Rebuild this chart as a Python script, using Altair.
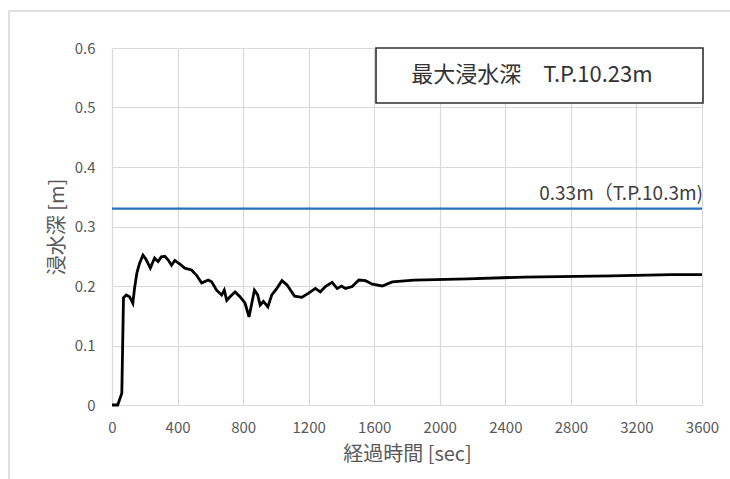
import altair as alt
import pandas as pd

# Flood depth time series (elapsed seconds, depth in metres)
t_sec = [0, 35, 60, 70, 87, 107, 127, 138, 152, 168, 189, 209, 234, 260, 281, 301,
         322, 342, 363, 383, 414, 444, 485, 516, 547, 587, 608, 638, 669, 685, 700,
         720, 751, 781, 812, 836, 853, 869, 889, 904, 924, 951, 975, 1006, 1037,
         1067, 1114, 1159, 1200, 1241, 1271, 1302, 1343, 1374, 1400, 1425, 1466,
         1506, 1547, 1588, 1649, 1710, 1843, 2170, 2515, 3048, 3416, 3600]
depth_m = [0.0, 0.0, 0.02, 0.18, 0.185, 0.182, 0.171, 0.197, 0.222, 0.238, 0.252,
           0.244, 0.230, 0.247, 0.241, 0.249, 0.250, 0.244, 0.235, 0.243, 0.237,
           0.230, 0.227, 0.218, 0.205, 0.210, 0.207, 0.193, 0.185, 0.193, 0.176,
           0.182, 0.190, 0.182, 0.171, 0.148, 0.171, 0.193, 0.185, 0.168, 0.174,
           0.165, 0.185, 0.196, 0.209, 0.202, 0.183, 0.181, 0.188, 0.196, 0.190,
           0.199, 0.206, 0.196, 0.200, 0.196, 0.199, 0.210, 0.209, 0.203, 0.200,
           0.207, 0.210, 0.212, 0.215, 0.217, 0.219, 0.219]

ref_depth = [0.33]
ref_label = ["0.33m（T.P.10.3m)"]
box_label = ["最大浸水深　T.P.10.23m"]

x_ticks = list(range(0, 3601, 400))
y_ticks = [0, 0.1, 0.2, 0.3, 0.4, 0.5, 0.6]

FONT = "Noto Sans CJK JP"
W, H = 590, 357

series = pd.DataFrame({"t": t_sec, "d": depth_m})
ref = pd.DataFrame({"d": ref_depth, "label": ref_label, "t": [3600]})

x_scale = alt.Scale(domain=[0, 3600], nice=False)
y_scale = alt.Scale(domain=[0, 0.6], nice=False)

x_axis = alt.Axis(values=x_ticks, title="経過時間 [sec]", ticks=False, domain=False,
                  format="d", labelFlush=False, labelPadding=15, titlePadding=9,
                  labelFontSize=15, titleFontSize=20, grid=True)
y_axis = alt.Axis(values=y_ticks, title="浸水深 [m]", ticks=False, domain=False,
                  labelFlush=False, labelPadding=17, titlePadding=7, labelFontSize=15,
                  titleFontSize=20, grid=True,
                  labelExpr="datum.value == 0 ? '0' : format(datum.value, '.1f')")

line = alt.Chart(series).mark_line(color="black", strokeWidth=2.8,
                                   interpolate="linear").encode(
    x=alt.X("t:Q", scale=x_scale, axis=x_axis),
    y=alt.Y("d:Q", scale=y_scale, axis=y_axis),
)

ref_rule = alt.Chart(ref).mark_rule(color="#2670bf", strokeWidth=2.4).encode(
    y=alt.Y("d:Q", scale=y_scale),
    x=alt.value(0), x2=alt.value(W),
)

ref_text = alt.Chart(ref).mark_text(align="right", baseline="bottom", dy=-5, dx=1,
                                    font=FONT, fontSize=19, color="#404040").encode(
    x=alt.X("t:Q", scale=x_scale),
    y=alt.Y("d:Q", scale=y_scale),
    text="label:N",
)

# Annotation box in the upper right corner
box_df = pd.DataFrame({"label": box_label})
box = alt.Chart(box_df).mark_rect(fill="white", stroke="#303030", strokeWidth=1.6).encode(
    x=alt.value(264), x2=alt.value(591), y=alt.value(0), y2=alt.value(55),
)
box_text = alt.Chart(box_df).mark_text(align="center", baseline="middle", font=FONT,
                                       fontSize=22, color="#333333").encode(
    x=alt.value(420), y=alt.value(27), text="label:N",
)

# Light outer frame of the chart
frame_top = alt.Chart(box_df).mark_rule(color="#d6d6d6", strokeWidth=1.5).encode(
    x=alt.value(-103), x2=alt.value(W + 40), y=alt.value(-37),
)
frame_left = alt.Chart(box_df).mark_rule(color="#d6d6d6", strokeWidth=1.5).encode(
    x=alt.value(-103), y=alt.value(-37), y2=alt.value(H + 90),
)

chart = alt.layer(frame_top, frame_left, line, ref_rule, ref_text, box, box_text).properties(
    width=W, height=H,
    autosize=alt.AutoSizeParams(type="none"),
    padding={"left": 112, "top": 48, "right": 28, "bottom": 74},
    background="white",
).configure_view(stroke=None).configure_axis(
    labelFont=FONT, titleFont=FONT, labelColor="#595959", titleColor="#595959",
    gridColor="#d9d9d9", gridWidth=1.2, titleFontWeight="normal",
)

chart.save("out.html", embed_options={"renderer": "svg", "actions": False})
